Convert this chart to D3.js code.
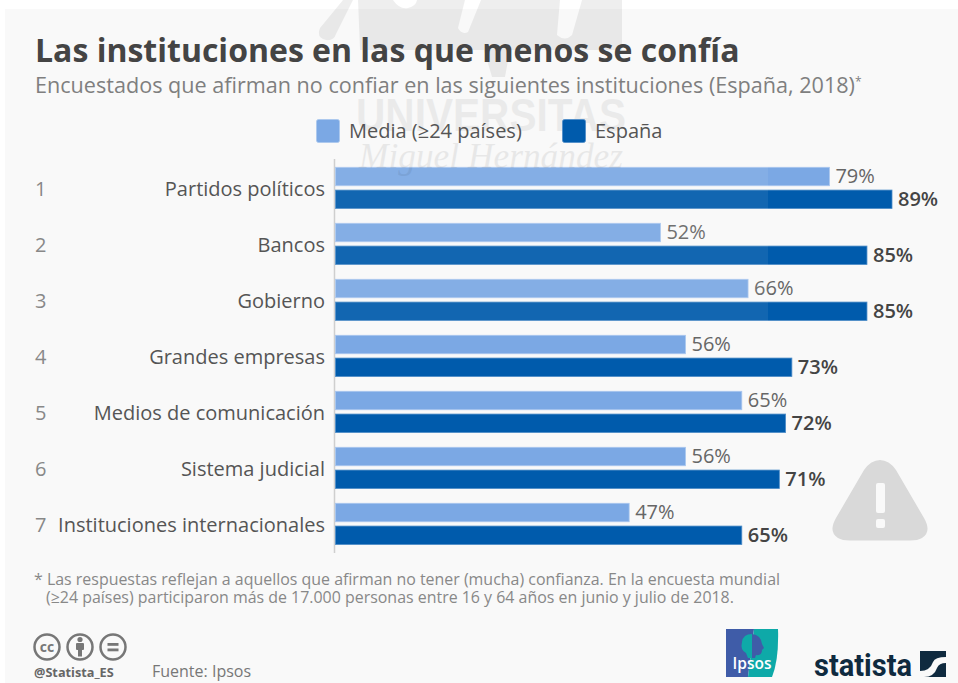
<!DOCTYPE html>
<html>
<head>
<meta charset="utf-8">
<script src="https://cdn.jsdelivr.net/npm/d3@7"></script>
<style>
html, body { margin: 0; padding: 0; background: #fff; }
svg { display: block; font-family: "Open Sans", sans-serif; }
</style>
</head>
<body>
<svg></svg>
<script>
const WIDTH = 958;
const HEIGHT = 683;

const ranks = ["1", "2", "3", "4", "5", "6", "7"];
const categories = ["Partidos políticos", "Bancos", "Gobierno", "Grandes empresas",
    "Medios de comunicación", "Sistema judicial", "Instituciones internacionales"];
const media = [79, 52, 66, 56, 65, 56, 47];
const espana = [89, 85, 85, 73, 72, 71, 65];
const seriesNames = ["Media (≥24 países)", "España"];
const seriesColors = ["#7ba8e4", "#005bac"];
const seriesEdges = ["#a9c6ee", "#4d8cc8"];

const svg = d3.select("svg").attr("width", WIDTH).attr("height", HEIGHT);

// panel
svg.append("rect").attr("x", 5).attr("y", 9).attr("width", WIDTH - 5).attr("height", HEIGHT - 9).attr("fill", "#f9f9f9");

// scales
const xScale = d3.scaleLinear().domain([0, 89]).range([335, 892]);
const yScale = d3.scaleBand().domain(categories).range([161, 553]);
const barScale = d3.scaleBand().domain([0, 1]).range([6.3, 47.5]).paddingInner(0.19);

// axis line
svg.append("line").attr("x1", 334.5).attr("x2", 334.5).attr("y1", 159).attr("y2", 553)
    .attr("stroke", "#cfcfcf").attr("stroke-width", 1.5);

// bars and value labels
const rows = svg.selectAll("g.row").data(categories).enter().append("g")
    .attr("class", "row")
    .attr("transform", d => "translate(0," + yScale(d) + ")");

[media, espana].forEach(function(values, s) {
    rows.append("rect")
        .attr("x", xScale(0) + 0.5)
        .attr("y", barScale(s))
        .attr("width", (d, i) => xScale(values[i]) - xScale(0) - 0.5)
        .attr("height", barScale.bandwidth())
        .attr("fill", seriesColors[s])
        .attr("stroke", seriesEdges[s])
        .attr("stroke-width", 0.8);
    rows.append("text")
        .attr("x", (d, i) => xScale(values[i]) + 6)
        .attr("y", barScale(s) + barScale.bandwidth() / 2)
        .attr("dy", s == 1 ? "0.34em" : "0.32em")
        .attr("font-size", 20)
        .attr("font-weight", s == 1 ? 600 : 400)
        .attr("fill", s == 1 ? "#444" : "#666")
        .text((d, i) => values[i] + "%");
});

rows.append("text")
    .attr("x", 325).attr("y", 28).attr("dy", "0.34em")
    .attr("text-anchor", "end").attr("font-size", 20).attr("fill", "#555")
    .text(d => d);

rows.append("text")
    .attr("x", 35).attr("y", 28).attr("dy", "0.34em")
    .attr("font-size", 20).attr("fill", "#888")
    .text((d, i) => ranks[i]);

// watermark over the chart
const mark = svg.append("g");
mark.append("path")
    .attr("d", "M343,0 L320,28 Q316,38 326,40 Q334,41 336,34 L353,0 Z "
        + "M358,0 L393,0 Q400,10 408,8 Q416,6 417,0 L465,0 L458,28 Q462,35 468,32 L481,0 "
        + "L560,0 L557,35 Q565,42 572,35 L582,0 L622,0 L622,50 L510,50 L505,77 L492,77 L484,50 L360,50 Z")
    .attr("fill", "#000").attr("opacity", 0.065);
mark.append("text").attr("x", 491).attr("y", 131).attr("text-anchor", "middle")
    .attr("font-family", "Liberation Sans").attr("font-weight", 700).attr("font-size", 47)
    .attr("textLength", 270).attr("lengthAdjust", "spacingAndGlyphs")
    .attr("fill", "#000").attr("opacity", 0.055).text("UNIVERSITAS");
mark.append("text").attr("x", 491).attr("y", 168).attr("text-anchor", "middle")
    .attr("font-family", "Liberation Serif").attr("font-style", "italic").attr("font-size", 35)
    .attr("textLength", 264).attr("lengthAdjust", "spacingAndGlyphs")
    .attr("fill", "#000").attr("opacity", 0.065).text("Miguel Hernández");
mark.append("rect").attr("x", 335).attr("y", 161).attr("width", 433).attr("height", 160)
    .attr("fill", "#fff").attr("opacity", 0.07);

// title
svg.append("text").attr("x", 35).attr("y", 62).attr("font-size", 32).attr("font-weight", 700)
    .attr("fill", "#444").text("Las instituciones en las que menos se confía");
const sub = svg.append("text").attr("x", 35).attr("y", 93).attr("font-size", 21.6).attr("fill", "#7f7f7f")
    .text("Encuestados que afirman no confiar en las siguientes instituciones (España, 2018)");
sub.append("tspan").attr("font-size", 12).attr("dy", -7).text("*");

// legend
const legendX = [316, 562];
seriesNames.forEach(function(name, i) {
    svg.append("rect").attr("x", legendX[i] + 0.5).attr("y", 119.5).attr("width", 23).attr("height", 23).attr("rx", 2)
        .attr("fill", seriesColors[i]).attr("stroke", seriesEdges[i]).attr("stroke-width", 0.8);
    svg.append("text").attr("x", legendX[i] + 33).attr("y", 131).attr("dy", "0.34em")
        .attr("font-size", 20).attr("fill", "#555").text(name);
});

// warning icon
const icon = svg.append("g");
icon.append("path")
    .attr("d", "M880,460 Q871,460 864,470 L836,518 Q828,532 838,538 Q842,540.5 850,540.5 L910,540.5 Q918,540.5 922,538 Q932,532 924,518 L896,470 Q889,460 880,460 Z")
    .attr("fill", "#d9d9d9");
icon.append("rect").attr("x", 876).attr("y", 483).attr("width", 9).attr("height", 30).attr("rx", 2).attr("fill", "#f9f9f9");
icon.append("rect").attr("x", 876).attr("y", 519).attr("width", 9).attr("height", 9).attr("rx", 2).attr("fill", "#f9f9f9");

// footnote
const note = svg.append("g").attr("font-size", 15.94).attr("fill", "#888");
note.append("text").attr("x", 34).attr("y", 585)
    .text("* Las respuestas reflejan a aquellos que afirman no tener (mucha) confianza. En la encuesta mundial");
note.append("text").attr("x", 46).attr("y", 603)
    .text("(≥24 países) participaron más de 17.000 personas entre 16 y 64 años en junio y julio de 2018.");

// cc icons
const ccX = [47, 80, 113];
const cc = svg.append("g").attr("fill", "none").attr("stroke", "#777").attr("stroke-width", 2.5);
ccX.forEach(function(x) {
    cc.append("circle").attr("cx", x).attr("cy", 647).attr("r", 12.5);
});
svg.append("text").attr("x", 47).attr("y", 652).attr("text-anchor", "middle").attr("font-size", 14)
    .attr("font-weight", 700).attr("fill", "#777").text("cc");
svg.append("circle").attr("cx", 80).attr("cy", 639.5).attr("r", 2.6).attr("fill", "#777");
svg.append("rect").attr("x", 76).attr("y", 643).attr("width", 8).attr("height", 7).attr("rx", 1).attr("fill", "#777");
svg.append("rect").attr("x", 78).attr("y", 649).attr("width", 4).attr("height", 7.5).attr("fill", "#777");
svg.append("rect").attr("x", 107.5).attr("y", 643).attr("width", 11).attr("height", 2.8).attr("fill", "#777");
svg.append("rect").attr("x", 107.5).attr("y", 648.5).attr("width", 11).attr("height", 2.8).attr("fill", "#777");

svg.append("text").attr("x", 34).attr("y", 677).attr("font-size", 12.7).attr("font-weight", 700)
    .attr("fill", "#666").text("@Statista_ES");
svg.append("text").attr("x", 152).attr("y", 677).attr("font-size", 16).attr("fill", "#777").text("Fuente: Ipsos");

// ipsos logo
svg.append("path").attr("d", "M726,629 L754,629 L748,677 L726,677 Z").attr("fill", "#3f5ca8");
svg.append("path").attr("d", "M754,629 L778,629 Q779,660 772,677 L748,677 Z").attr("fill", "#0ea9a8");
svg.append("path").attr("d", "M752,634 Q743,634 742,642 Q740,650 746,653 L748,658 L752,658 Z").attr("fill", "#0ea9a8");
svg.append("path").attr("d", "M752,634 Q761,635 762,644 L764,648 L762,650 Q762,656 756,655 L755,658 L752,658 Z").attr("fill", "#3f5ca8");
svg.append("text").attr("x", 752).attr("y", 669).attr("text-anchor", "middle").attr("font-size", 15.5)
    .attr("font-weight", 600).attr("fill", "#fff").text("Ipsos");

// statista logo
svg.append("text").attr("x", 814).attr("y", 675.5).attr("font-family", "Roboto").attr("font-size", 32).attr("font-weight", 700)
    .attr("textLength", 98).attr("lengthAdjust", "spacingAndGlyphs").attr("fill", "#0f2a3f").text("statista");
svg.append("rect").attr("x", 920).attr("y", 651).attr("width", 26).attr("height", 26).attr("fill", "#0f2a3f");
svg.append("path").attr("d", "M920,671 Q930,671 933,662 Q935,657 946,657 L946,663 Q939,663 937,668 Q934,677 924,677 L920,677 Z").attr("fill", "#f9f9f9");
</script>
</body>
</html>
